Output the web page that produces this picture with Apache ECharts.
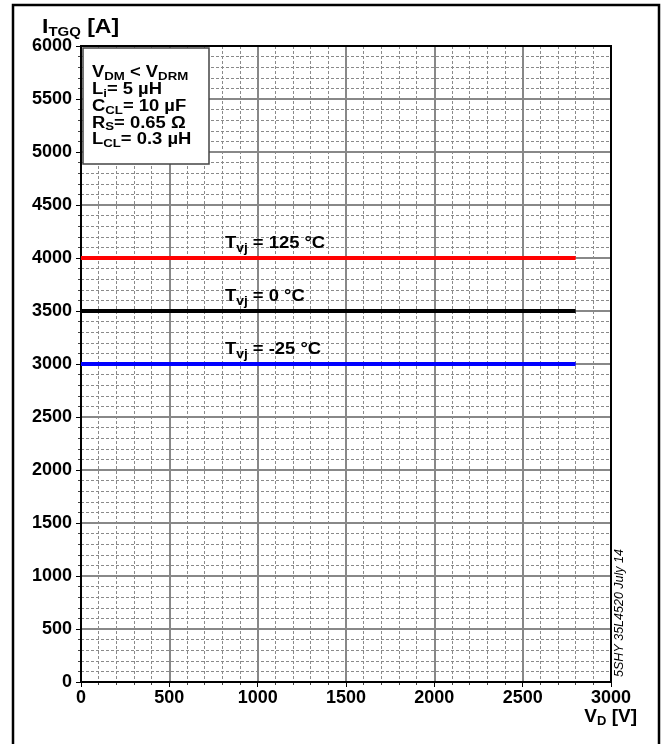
<!DOCTYPE html>
<html>
<head>
<meta charset="utf-8">
<script src="https://cdn.jsdelivr.net/npm/echarts@6/dist/echarts.min.js"></script>
<style>
html,body{margin:0;padding:0;background:#fff;}
#chart{width:666px;height:744px;}
</style>
</head>
<body>
<div id="chart"></div>
<script>
// ---- data ----
const vdRange = [0, 2800];                 // V_D [V] span of each curve
const tvjLabels = ['125', '0', '-25'];     // T_vj [°C]
const itgqValues = [4000, 3500, 3000];     // I_TGQ [A]
const lineColors = ['#ff0000', '#000000', '#0000ff'];
const xTicks = [0, 500, 1000, 1500, 2000, 2500, 3000];
const yTicks = [0, 500, 1000, 1500, 2000, 2500, 3000, 3500, 4000, 4500, 5000, 5500, 6000];
const legendLines = [
  ['V', 'DM', ' < V', 'DRM'],
  ['L', 'i', '= 5 µH'],
  ['C', 'CL', '= 10 µF'],
  ['R', 'S', '= 0.65 Ω'],
  ['L', 'CL', '= 0.3 µH']
];

const FONT = '"Liberation Sans", Arial, Helvetica, sans-serif';
const chart = echarts.init(document.getElementById('chart'), null, {renderer: 'canvas'});

const series = itgqValues.map((v, i) => ({
  type: 'line',
  data: vdRange.map(x => [x, v]),
  showSymbol: false,
  symbol: 'none',
  lineStyle: {color: lineColors[i], width: 4},
  z: 5,
  animation: false
}));

const plain = v => String(v);
const option = {
  animation: false,
  backgroundColor: '#fff',
  grid: {left: 81, top: 46, width: 530, height: 636, show: true, borderColor: '#000', borderWidth: 2, z: 3},
  xAxis: {
    type: 'value', min: xTicks[0], max: xTicks[xTicks.length - 1], interval: 500,
    axisLine: {show: true, lineStyle: {color: '#000', width: 2}},
    axisTick: {show: true, length: 5, lineStyle: {color: '#000', width: 1}},
    minorTick: {show: true, splitNumber: 5, length: 3, lineStyle: {color: '#444', width: 1}},
    axisLabel: {color: '#000', fontFamily: FONT, fontWeight: 'bold', fontSize: 18, margin: 7, formatter: plain},
    splitLine: {show: true, lineStyle: {color: '#888', width: 2}},
    minorSplitLine: {show: true, lineStyle: {color: '#8a8a8a', width: 1, type: [3, 2]}}
  },
  yAxis: {
    type: 'value', min: yTicks[0], max: yTicks[yTicks.length - 1], interval: 500,
    axisLine: {show: true, lineStyle: {color: '#000', width: 2}},
    axisTick: {show: true, length: 5, lineStyle: {color: '#000', width: 1}},
    minorTick: {show: true, splitNumber: 5, length: 3, lineStyle: {color: '#444', width: 1}},
    axisLabel: {color: '#000', fontFamily: FONT, fontWeight: 'bold', fontSize: 18, margin: 9, formatter: plain},
    splitLine: {show: true, lineStyle: {color: '#888', width: 2}},
    minorSplitLine: {show: true, lineStyle: {color: '#8a8a8a', width: 1, type: [3, 2]}}
  },
  series: series
};
chart.setOption(option);

const SX = 1.15;
function richStyles(base, sub, lh, drop) {
  return {
    b: {fontFamily: FONT, fontWeight: 'bold', fontSize: base, lineHeight: lh, verticalAlign: 'top', fill: '#000', color: '#000'},
    s: {fontFamily: FONT, fontWeight: 'bold', fontSize: sub, lineHeight: lh, verticalAlign: 'top', padding: [drop, 0, 0, 0], fill: '#000', color: '#000'}
  };
}
function toRich(parts) {
  return parts.map((p, i) => (i % 2 === 0 ? '{b|' : '{s|') + p + '}').join('');
}

const graphics = [];
// outer frame
graphics.push({type: 'rect', shape: {x: 13, y: 5, width: 646, height: 745}, style: {fill: 'none', stroke: '#000', lineWidth: 2.5}, z: 100, silent: true});
// legend box
graphics.push({type: 'rect', shape: {x: 83, y: 48, width: 126, height: 116}, style: {fill: '#fff', stroke: '#444', lineWidth: 1.5}, z: 50});
graphics.push({
  type: 'text', x: 92, y: 65, scaleX: SX, z: 51,
  style: {text: legendLines.map(toRich).join('\n'), rich: richStyles(16, 11.5, 16.7, 6), textAlign: 'left', textVerticalAlign: 'top'}
});
// y-axis title
graphics.push({
  type: 'text', x: 42, y: 17, scaleX: SX, z: 51,
  style: {text: toRich(['I', 'TGQ', ' [A]']), rich: richStyles(20, 13, 22, 9), textAlign: 'left', textVerticalAlign: 'top'}
});
// x-axis title
graphics.push({
  type: 'text', x: 637, y: 707, z: 51,
  style: {text: toRich(['V', 'D', ' [V]']), rich: richStyles(19, 13, 21, 7.5), textAlign: 'right', textVerticalAlign: 'top'}
});
// side note
graphics.push({
  type: 'text', x: 620, y: 613, rotation: Math.PI / 2, z: 51,
  style: {text: '5SHY 35L4520 July 14', fontFamily: FONT, fontStyle: 'italic', fontSize: 12.5, fill: '#000', textAlign: 'center', textVerticalAlign: 'middle'}
});
// curve labels
const labelV = 815;
itgqValues.forEach((v, i) => {
  const p = chart.convertToPixel({gridIndex: 0}, [labelV, v]);
  graphics.push({
    type: 'text', x: p[0], y: p[1] - 22, scaleX: SX, z: 51,
    style: {text: toRich(['T', 'vj', ' = ' + tvjLabels[i] + ' °C']), rich: richStyles(16, 12, 18, 6.5), textAlign: 'left', textVerticalAlign: 'top'}
  });
});
chart.setOption({graphic: graphics});
</script>
</body>
</html>
